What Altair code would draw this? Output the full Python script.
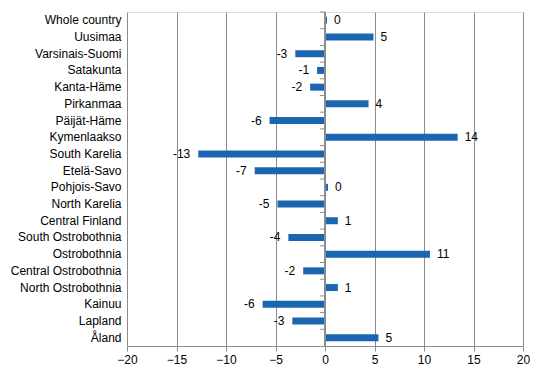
import altair as alt
import pandas as pd

regions = ["Whole country", "Uusimaa", "Varsinais-Suomi", "Satakunta", "Kanta-Häme",
           "Pirkanmaa", "Päijät-Häme", "Kymenlaakso", "South Karelia", "Etelä-Savo",
           "Pohjois-Savo", "North Karelia", "Central Finland", "South Ostrobothnia",
           "Ostrobothnia", "Central Ostrobothnia", "North Ostrobothnia", "Kainuu",
           "Lapland", "Åland"]
values = [0.2, 4.9, -3.0, -0.8, -1.5, 4.4, -5.6, 13.4, -12.8, -7.1,
          0.3, -4.8, 1.3, -3.7, 10.6, -2.2, 1.3, -6.3, -3.3, 5.4]
labels = ["0", "5", "-3", "-1", "-2", "4", "-6", "14", "-13", "-7",
          "0", "-5", "1", "-4", "11", "-2", "1", "-6", "-3", "5"]

df = pd.DataFrame({"region": regions, "value": values, "label": labels})

W, H = 396, 334
xscale = alt.Scale(domain=[-20, 20], nice=False)
yscale = alt.Scale(domain=regions, paddingInner=0, paddingOuter=0)
xaxis = alt.Axis(values=list(range(-20, 21, 5)), title=None, grid=True,
                 gridColor="#8c8c8c", gridWidth=1, domainColor="#8c8c8c",
                 tickColor="#8c8c8c", tickSize=5, labelFontSize=12,
                 labelFont="Liberation Sans", labelColor="#000000",
                 labelPadding=3, labelFlush=False)
yaxis = alt.Axis(title=None, domain=False, ticks=False, labelFontSize=12,
                 labelFont="Liberation Sans", labelColor="#000000",
                 labelPadding=6, labelLimit=200)

base = alt.Chart(df)

bars = base.mark_bar(color="#1a66b0", size=7).encode(
    x=alt.X("value:Q", scale=xscale, axis=xaxis),
    y=alt.Y("region:N", scale=yscale, sort=regions, axis=yaxis),
)

zero_line = base.mark_rule(color="#8c8c8c").encode(
    x=alt.X(datum=0, scale=xscale),
)

cat_ticks = base.mark_rule(color="#8c8c8c").encode(
    x=alt.X(datum=0, scale=xscale),
    x2=alt.X2(datum=-0.5),
    y=alt.Y("region:N", scale=yscale, sort=regions, bandPosition=0),
)

pos_text = base.transform_filter("datum.value >= 0").mark_text(
    align="left", dx=7, fontSize=12, font="Liberation Sans", color="#000000"
).encode(
    x=alt.X("value:Q", scale=xscale),
    y=alt.Y("region:N", scale=yscale, sort=regions),
    text="label:N",
)
neg_text = base.transform_filter("datum.value < 0").mark_text(
    align="right", dx=-8, fontSize=12, font="Liberation Sans", color="#000000"
).encode(
    x=alt.X("value:Q", scale=xscale),
    y=alt.Y("region:N", scale=yscale, sort=regions),
    text="label:N",
)

chart = alt.layer(bars, zero_line, cat_ticks, pos_text, neg_text).properties(
    width=W, height=H,
    autosize=alt.AutoSizeParams(type="none"),
    padding={"left": 119, "top": 4, "right": 13, "bottom": 20},
).configure_view(stroke=None).configure(background="white")

chart.save("out.html", embed_options={"renderer": "svg", "actions": False})
